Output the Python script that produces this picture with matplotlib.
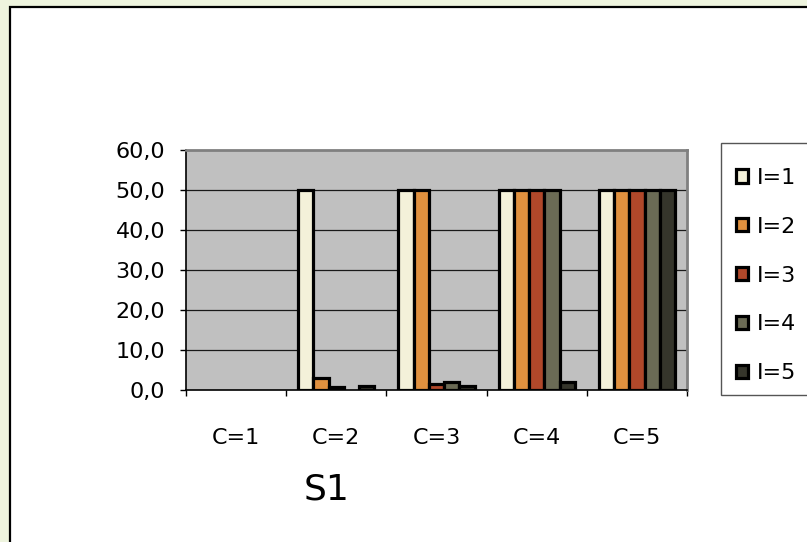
import numpy as np
import matplotlib.pyplot as plt
from matplotlib.patches import Rectangle, Patch
from matplotlib.ticker import FuncFormatter

# data: 5 groups (C) x 5 series (I)
categorie = ["C=1", "C=2", "C=3", "C=4", "C=5"]
serie = ["I=1", "I=2", "I=3", "I=4", "I=5"]
valori = {
    "I=1": [0, 50, 50, 50, 50],
    "I=2": [0, 3, 50, 50, 50],
    "I=3": [0, 0.8, 1.5, 50, 50],
    "I=4": [0, 0, 2, 50, 50],
    "I=5": [0, 1, 1, 2, 50],
}
colori = ["#f4f1d9", "#e0913f", "#b0482a", "#6b6b55", "#35352b"]
titolo = "S1"

W, H = 807, 542
fig = plt.figure(figsize=(W / 100, H / 100), dpi=100)
fig.patch.set_facecolor("#eef4de")

# white chart panel, only left and top edges fall inside the figure
pannello = Rectangle((10 / W, -1.0), 2.0, 2 - 7 / H, transform=fig.transFigure,
                     facecolor="white", edgecolor="black", linewidth=1.6,
                     zorder=0, clip_on=False)
fig.patches.append(pannello)

ax = fig.add_axes([186 / W, (H - 390) / H, (687 - 186) / W, 240 / H])
ax.set_facecolor("#c0c0c0")
ax.set_zorder(1)

n = len(serie)
larg = 0.152
centri = np.arange(len(categorie)) + 0.5
for k, s in enumerate(serie):
    v = np.array(valori[s], dtype=float)
    x = centri + (k - (n - 1) / 2) * larg
    lw = np.where(v > 0, 2.3, 0.0)
    ax.bar(x, v, width=larg, color=colori[k], edgecolor="black",
           linewidth=lw, zorder=3)

ax.set_xlim(0, len(categorie))
ax.set_ylim(0, 60)

# y axis
ax.set_yticks(np.arange(0, 61, 10))
ax.yaxis.set_major_formatter(FuncFormatter(lambda y, p: f"{y:.1f}".replace(".", ",")))
for g in range(10, 60, 10):
    ax.axhline(g, color="#1a1a1a", linewidth=0.9, zorder=2)
ax.tick_params(axis="y", direction="out", length=4, width=1, pad=11,
               labelsize=16, colors="black")

# x axis: ticks at group boundaries, labels at group centres
ax.set_xticks(np.arange(0, len(categorie) + 1))
ax.set_xticklabels([])
ax.set_xticks(centri, minor=True)
ax.set_xticklabels(categorie, minor=True)
ax.tick_params(axis="x", which="major", direction="out", length=4.5, width=1)
ax.tick_params(axis="x", which="minor", length=0, pad=27, labelsize=16)

for lato in ["top", "right"]:
    ax.spines[lato].set_color("#808080")
    ax.spines[lato].set_linewidth(2)
ax.spines["left"].set_color("black")
ax.spines["bottom"].set_color("black")
ax.spines["left"].set_linewidth(1.2)
ax.spines["bottom"].set_linewidth(1.2)

# legend box
cornice = Rectangle((721 / W, 1 - 395 / H), 1.0, (395 - 143) / H,
                    transform=fig.transFigure, facecolor="white",
                    edgecolor="#555555", linewidth=1.0, zorder=0.5)
fig.patches.append(cornice)
maniglie = [Patch(facecolor=c, edgecolor="black", linewidth=2.3, label=s)
            for c, s in zip(colori, serie)]
leg = fig.legend(handles=maniglie, loc="upper left",
                 bbox_to_anchor=(718 / W, 1 - 150 / H),
                 frameon=False, fontsize=16, handlelength=0.55,
                 handleheight=0.55, handletextpad=0.4, labelspacing=1.3,
                 borderpad=0.3)

fig.text(327 / W, 1 - 490 / H, titolo, fontsize=26, ha="center", va="center")

fig.savefig("out.png", dpi=100, facecolor=fig.get_facecolor())
